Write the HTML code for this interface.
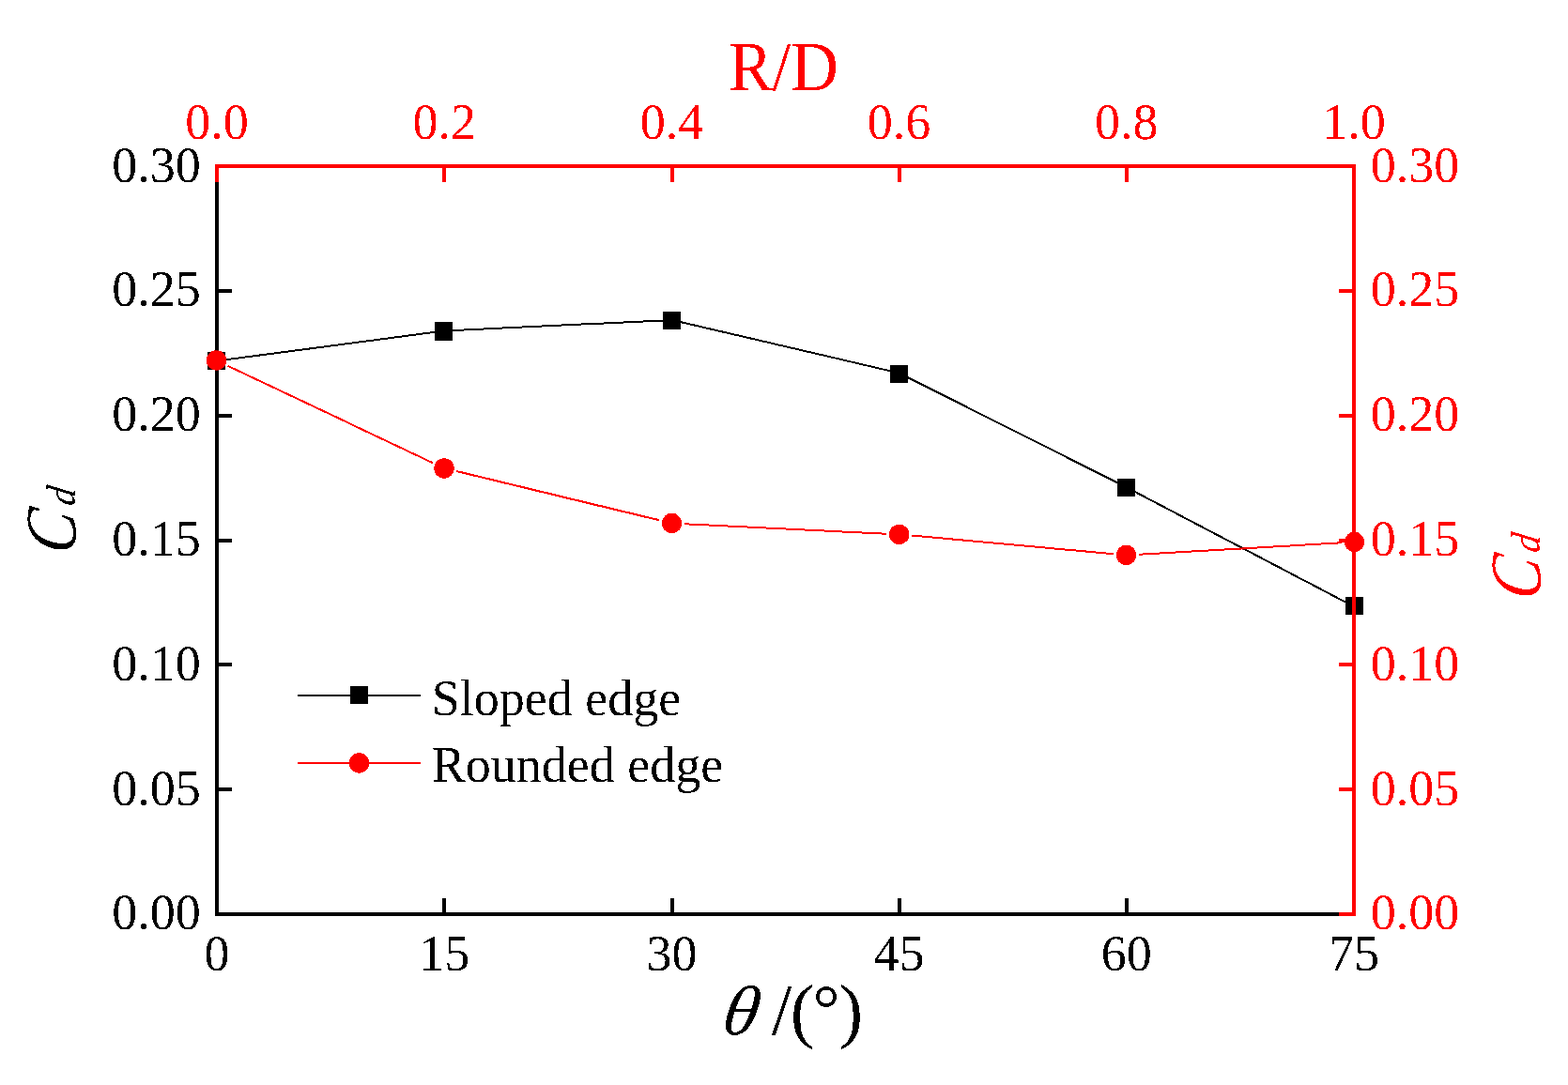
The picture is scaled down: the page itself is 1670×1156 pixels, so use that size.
<!DOCTYPE html>
<html lang="en"><head><meta charset="utf-8"><title>Cd versus slope angle and R/D</title>
<style>
html,body{margin:0;padding:0;background:#fff;}
body{width:1670px;height:1156px;overflow:hidden;}
svg{display:block;}
text{font-family:"Liberation Serif","DejaVu Serif",serif;}
.tk{font-size:54px;}
.it{font-style:italic;}
</style></head><body>
<svg width="1670" height="1156" viewBox="0 0 1670 1156" role="img" aria-label="Cd versus slope angle (sloped edge) and R/D (rounded edge)">
<rect x="0" y="0" width="1670" height="1156" fill="#ffffff"/>
<defs><filter id="crisp" x="0" y="0" width="1670" height="1156" filterUnits="userSpaceOnUse" color-interpolation-filters="sRGB"><feComponentTransfer><feFuncA type="linear" slope="1000" intercept="-500.0"/></feComponentTransfer></filter></defs>
<g filter="url(#crisp)">
<g fill="#000000" shape-rendering="crispEdges">
<rect x="229" y="175" width="4" height="801"/>
<rect x="229" y="972" width="1215" height="4"/>
<rect x="229" y="972" width="18" height="4"/>
<rect x="229" y="839" width="18" height="4"/>
<rect x="229" y="706" width="18" height="4"/>
<rect x="229" y="574" width="18" height="4"/>
<rect x="229" y="441" width="18" height="4"/>
<rect x="229" y="308" width="18" height="4"/>
<rect x="229" y="175" width="18" height="4"/>
<rect x="229" y="957" width="4" height="19"/>
<rect x="471" y="957" width="4" height="19"/>
<rect x="714" y="957" width="4" height="19"/>
<rect x="956" y="957" width="4" height="19"/>
<rect x="1198" y="957" width="4" height="19"/>
<rect x="1440" y="957" width="4" height="19"/>
</g>
<g class="tk" fill="#000000">
<text x="213.8" y="989.5" text-anchor="end">0.00</text>
<text x="213.8" y="857.7" text-anchor="end">0.05</text>
<text x="213.8" y="724.8" text-anchor="end">0.10</text>
<text x="213.8" y="592.0" text-anchor="end">0.15</text>
<text x="213.8" y="459.2" text-anchor="end">0.20</text>
<text x="213.8" y="326.3" text-anchor="end">0.25</text>
<text x="213.8" y="193.5" text-anchor="end">0.30</text>
<text x="231.0" y="1033.5" text-anchor="middle">0</text>
<text x="473.2" y="1033.5" text-anchor="middle">15</text>
<text x="715.4" y="1033.5" text-anchor="middle">30</text>
<text x="957.6" y="1033.5" text-anchor="middle">45</text>
<text x="1199.8" y="1033.5" text-anchor="middle">60</text>
<text x="1442.0" y="1033.5" text-anchor="middle">75</text>
</g>
<polyline fill="none" stroke="#000000" stroke-width="2" points="231.0,384.6 473.0,352.5 716.0,341.0 958.0,397.6 1200.0,519.3 1443.0,646.8"/>
<g fill="#000000" shape-rendering="crispEdges">
<rect x="221" y="375" width="19" height="19"/>
<rect x="463" y="343" width="19" height="20"/>
<rect x="706" y="332" width="19" height="19"/>
<rect x="948" y="389" width="19" height="19"/>
<rect x="1190" y="510" width="19" height="19"/>
<rect x="1433" y="636" width="19" height="19"/>
</g>
<g fill="#ff0000" shape-rendering="crispEdges">
<rect x="229" y="175" width="1215" height="4"/>
<rect x="1440" y="175" width="4" height="801"/>
<rect x="229" y="175" width="4" height="19"/>
<rect x="471" y="175" width="4" height="19"/>
<rect x="714" y="175" width="4" height="19"/>
<rect x="956" y="175" width="4" height="19"/>
<rect x="1198" y="175" width="4" height="19"/>
<rect x="1440" y="175" width="4" height="19"/>
<rect x="1426" y="972" width="18" height="4"/>
<rect x="1426" y="839" width="18" height="4"/>
<rect x="1426" y="706" width="18" height="4"/>
<rect x="1426" y="574" width="18" height="4"/>
<rect x="1426" y="441" width="18" height="4"/>
<rect x="1426" y="308" width="18" height="4"/>
<rect x="1426" y="175" width="18" height="4"/>
</g>
<g class="tk" fill="#ff0000">
<text x="231.0" y="147.5" text-anchor="middle">0.0</text>
<text x="473.2" y="147.5" text-anchor="middle">0.2</text>
<text x="715.4" y="147.5" text-anchor="middle">0.4</text>
<text x="957.6" y="147.5" text-anchor="middle">0.6</text>
<text x="1199.8" y="147.5" text-anchor="middle">0.8</text>
<text x="1442.0" y="147.5" text-anchor="middle">1.0</text>
<text x="1459.8" y="989.5">0.00</text>
<text x="1459.8" y="857.7">0.05</text>
<text x="1459.8" y="724.8">0.10</text>
<text x="1459.8" y="592.0">0.15</text>
<text x="1459.8" y="459.2">0.20</text>
<text x="1459.8" y="326.3">0.25</text>
<text x="1459.8" y="193.5">0.30</text>
</g>
<line x1="242.70" y1="389.78" x2="460.80" y2="493.12" stroke="#ff0000" stroke-width="2"/>
<line x1="486.12" y1="502.07" x2="702.38" y2="554.33" stroke="#ff0000" stroke-width="2"/>
<line x1="728.98" y1="558.16" x2="944.12" y2="568.74" stroke="#ff0000" stroke-width="2"/>
<line x1="971.04" y1="570.62" x2="1186.06" y2="590.18" stroke="#ff0000" stroke-width="2"/>
<line x1="1212.98" y1="590.63" x2="1429.02" y2="578.27" stroke="#ff0000" stroke-width="2"/>
<circle cx="230.5" cy="384.0" r="10.7" fill="#ff0000"/>
<circle cx="473.0" cy="498.9" r="10.7" fill="#ff0000"/>
<circle cx="715.5" cy="557.5" r="10.7" fill="#ff0000"/>
<circle cx="957.6" cy="569.4" r="10.7" fill="#ff0000"/>
<circle cx="1199.5" cy="591.4" r="10.7" fill="#ff0000"/>
<circle cx="1442.5" cy="577.5" r="10.7" fill="#ff0000"/>
<text transform="matrix(0.70081 0 0 0.74745 775.98106 96.27007)" font-size="100" fill="#ff0000">R/D</text>
<text transform="matrix(0.77731 0 -0.25256 0.74755 764.0702 1102.26997)" font-size="100" fill="#000000">θ</text>
<text fill="#000000"><tspan x="821.75" y="1101.63" font-size="77.41">/</tspan><tspan x="841.83" y="1102.38" font-size="76.43">(</tspan><tspan x="865.53" y="1099.25" font-size="72.55">°</tspan><tspan x="893.72" y="1102.38" font-size="76.43">)</tspan></text>
<text transform="matrix(0 -0.88 1 0.15517 0 0)" class="it" fill="#000000"><tspan x="-658.3" y="79.94" font-size="76.41">C</tspan><tspan x="-599.44" y="79.76" font-size="43.18">d</tspan></text>
<text transform="matrix(0 -0.88 1 0.15517 0 0)" class="it" fill="#ff0000"><tspan x="-438.91" y="1639.94" font-size="76.41">C</tspan><tspan x="-381.19" y="1639.76" font-size="43.18">d</tspan></text>
<g shape-rendering="crispEdges">
<rect x="317" y="740" width="131" height="2" fill="#000000"/>
<rect x="373" y="731" width="19" height="19" fill="#000000"/>
<rect x="317" y="812" width="131" height="2" fill="#ff0000"/>
</g>
<circle cx="382.5" cy="813" r="10.7" fill="#ff0000"/>
<g class="tk" fill="#000000">
<text transform="translate(459.8 761.5) scale(1 1.02)">Sloped edge</text>
<text transform="translate(459.8 832.5) scale(1 1.02)">Rounded edge</text>
</g>
</g>
</svg>
</body></html>
